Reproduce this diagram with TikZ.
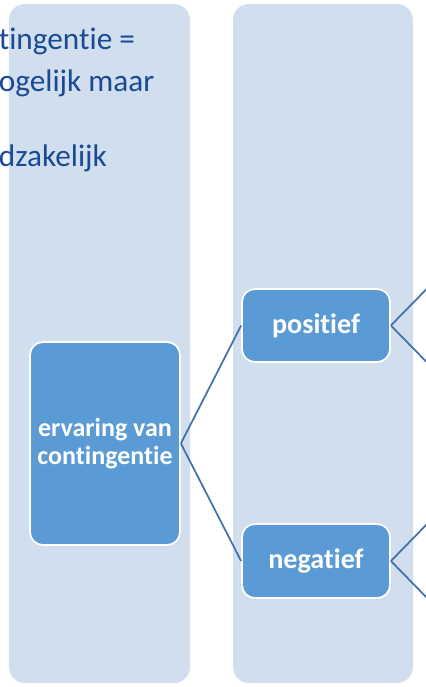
\documentclass[tikz,border=0pt]{standalone}
\usepackage{fontspec}
\setmainfont[Ligatures=NoCommon]{Carlito}
\definecolor{kolomblauw}{RGB}{209,222,238}
\definecolor{vakblauw}{RGB}{91,155,213}
\definecolor{lijnblauw}{RGB}{68,114,170}
\definecolor{tekstblauw}{RGB}{26,74,148}
\begin{document}
\begin{tikzpicture}[
    kolom/.style = {fill=kolomblauw, rounded corners=0.32cm},
    vak/.style = {fill=vakblauw, draw=white, line width=1pt, rounded corners=0.26cm,
                  text=white, align=center, inner sep=0pt},
    regel/.style = {anchor=base west, inner sep=0pt, text=tekstblauw,
                    font=\fontsize{17.8}{21}\selectfont},
    tak/.style = {draw=lijnblauw, line width=1pt}]
                \useasboundingbox (0,0) rectangle (8.52,-13.74);
                \clip (0,0) rectangle (8.52,-13.74);
                \fill[kolom] (0.18,-0.08) rectangle (3.80,-13.66);
                \fill[kolom] (4.66,-0.08) rectangle (8.26,-13.66);

                \node[regel] (regel1) at (-0.03,-0.98) {tingentie =};
                \node[regel] (regel2) at (-0.03,-1.82) {ogelijk maar};
                \node[regel] (regel3) at (-0.03,-3.32) {dzakelijk};

                \node[vak, minimum width=3cm, minimum height=4.06cm,
                      font=\fontsize{14.8}{16}\selectfont\bfseries] (ervaring) at (2.10,-8.87) {ervaring van\\contingentie};
                \node[vak, minimum width=2.96cm, minimum height=1.46cm,
                      font=\fontsize{16}{18}\selectfont\bfseries] (positief) at (6.32,-6.51) {positief};
                \node[vak, minimum width=2.96cm, minimum height=1.48cm,
                      font=\fontsize{16}{18}\selectfont\bfseries] (negatief) at (6.32,-11.22) {negatief};

                \coordinate (pos1) at (8.62,-5.69);
                \coordinate (pos2) at (8.62,-7.33);
                \coordinate (neg1) at (8.62,-10.40);
                \coordinate (neg2) at (8.62,-12.04);

                \draw[tak] (ervaring.east) -- (positief.west);
                \draw[tak] (ervaring.east) -- (negatief.west);
                \draw[tak] (positief.east) -- (pos1);
                \draw[tak] (positief.east) -- (pos2);
                \draw[tak] (negatief.east) -- (neg1);
                \draw[tak] (negatief.east) -- (neg2);
            \end{tikzpicture}
\end{document}
